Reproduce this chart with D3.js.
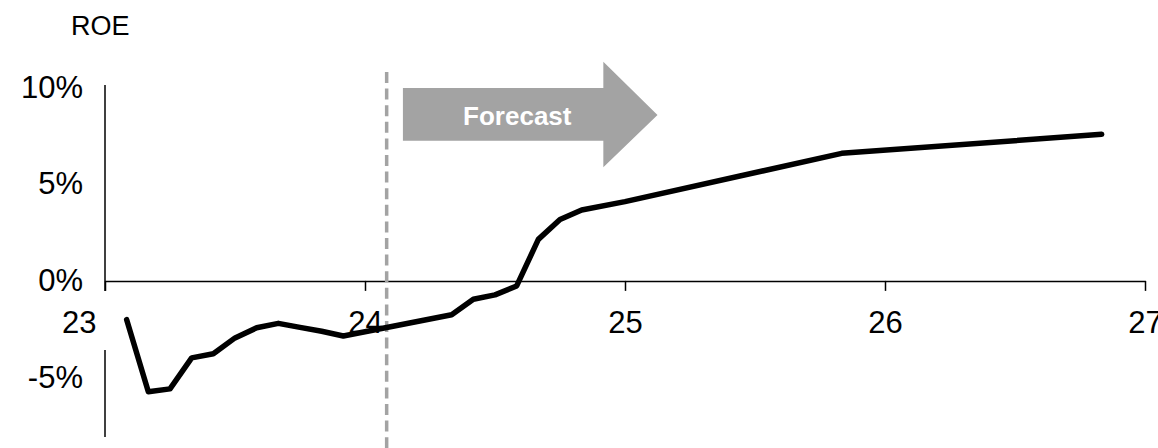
<!DOCTYPE html>
<html>
<head>
<meta charset="utf-8">
<script src="https://cdn.jsdelivr.net/npm/d3@7"></script>
<style>
  html, body { margin: 0; padding: 0; background: #fff; }
  svg { display: block; font-family: "Liberation Sans", Arial, sans-serif; }
</style>
</head>
<body>
<svg id="chart" width="1158" height="448"></svg>
<script>
// ---- data ----
const title = "ROE";
// months elapsed since the start of year "23"
const months = [1, 2, 3, 4, 5, 6, 7, 8, 9, 10, 11, 16, 17, 18, 19, 20, 21, 22, 24, 34, 46];
const roe = [-2.0, -5.72, -5.57, -3.97, -3.76, -2.94, -2.42, -2.19, -2.40, -2.60, -2.84,
             -1.75, -0.95, -0.72, -0.26, 2.14, 3.17, 3.66, 4.09, 6.58, 7.56];
const xTickMonths = [0, 12, 24, 36, 48];
const xTickLabels = ["23", "24", "25", "26", "27"];
const yTicks = [-5, 0, 5, 10];
const yTickLabels = ["-5%", "0%", "5%", "10%"];
const forecastStartMonth = 13;
const forecastLabel = "Forecast";

// ---- scales ----
const svg = d3.select("#chart");
const x = d3.scaleLinear().domain([0, 48]).range([105, 1145]);
const y = d3.scaleLinear().domain([-8, 10]).range([436, 87]);

const FS = 31;
const grey = "#a3a3a3";

// title
svg.append("text").attr("x", 71).attr("y", 26).attr("dominant-baseline", "central")
  .attr("font-size", 27).attr("fill", "#000").text(title);

// y axis line (broken where the first category label sits)
svg.append("line").attr("x1", x(0)).attr("x2", x(0))
  .attr("y1", y(10.1)).attr("y2", y(-0.52)).attr("stroke", "#000").attr("stroke-width", 1.5);
svg.append("line").attr("x1", x(0)).attr("x2", x(0))
  .attr("y1", y(-3.56)).attr("y2", y(-8.05)).attr("stroke", "#000").attr("stroke-width", 1.5);

// y tick labels
svg.append("g").selectAll("text").data(yTicks).join("text")
  .attr("x", 83).attr("y", d => y(d)).attr("dominant-baseline", "central")
  .attr("text-anchor", "end").attr("font-size", FS).attr("fill", "#000")
  .text((d, i) => yTickLabels[i]);

// x axis at 0%
const xAxis = d3.axisBottom(x).tickValues(xTickMonths).tickSize(10).tickSizeOuter(0)
  .tickFormat((d, i) => xTickLabels[i]);
const gx = svg.append("g").attr("transform", `translate(0,${y(0)})`).call(xAxis);
gx.select(".domain").attr("stroke", "#000").attr("stroke-width", 1.5);
gx.selectAll(".tick line").attr("stroke", "#000").attr("stroke-width", 1.5);
gx.selectAll(".tick text").attr("font-size", FS).attr("fill", "#000")
  .attr("font-family", "Liberation Sans, Arial, sans-serif")
  .attr("y", 41).attr("dy", "0.35em");
gx.selectAll(".tick").filter((d, i) => i === 0).select("text")
  .attr("text-anchor", "end").attr("x", -9);

// forecast divider
svg.append("line").attr("x1", x(forecastStartMonth)).attr("x2", x(forecastStartMonth))
  .attr("y1", 72).attr("y2", 448).attr("stroke", grey).attr("stroke-width", 3.5)
  .attr("stroke-dasharray", "11,5.6");

// forecast arrow
const bodyL = x(13.75), bodyR = x(23.0), tip = x(25.5);
const bTop = y(9.95), bBot = y(7.23), hTop = y(11.3), hBot = y(5.86), mid = y(8.56);
svg.append("path")
  .attr("d", `M${bodyL},${bTop}L${bodyR},${bTop}L${bodyR},${hTop}L${tip},${mid}L${bodyR},${hBot}L${bodyR},${bBot}L${bodyL},${bBot}Z`)
  .attr("fill", grey);
svg.append("text").attr("x", x(19.03)).attr("y", mid + 1).attr("dominant-baseline", "central")
  .attr("text-anchor", "middle").attr("font-size", 26).attr("font-weight", "bold")
  .attr("fill", "#fff").text(forecastLabel);

// ROE line
const line = d3.line().x((d, i) => x(months[i])).y(d => y(d));
svg.append("path").datum(roe).attr("d", line).attr("fill", "none")
  .attr("stroke", "#000").attr("stroke-width", 5.5)
  .attr("stroke-linejoin", "round").attr("stroke-linecap", "round");
</script>
</body>
</html>
